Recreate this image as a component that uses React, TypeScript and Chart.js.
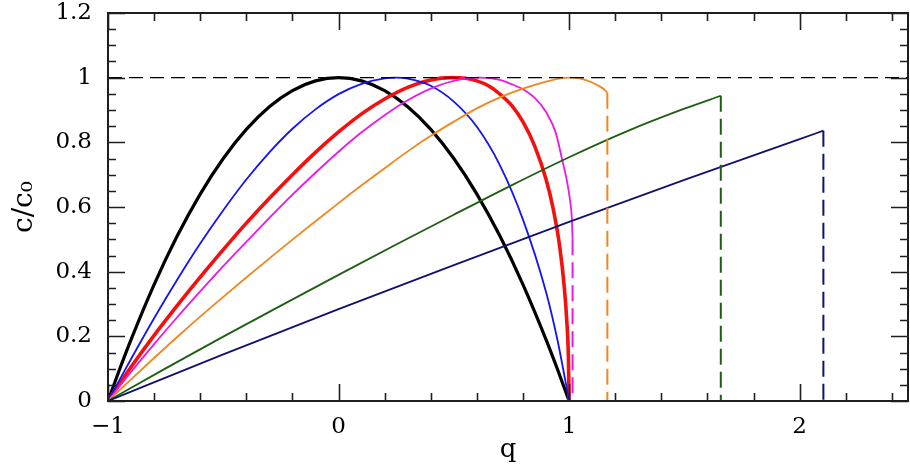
import React, { useEffect, useRef } from 'react';
import { Chart, registerables } from 'chart.js';

Chart.register(...registerables);

// Axis ranges and tick labels
const X_MIN = -1;
const X_MAX = 2.47;
const Y_MIN = 0;
const Y_MAX = 1.2;
const xTickLabels = [-1, 0, 1, 2];
const yTickStep = 0.2;
const xMinorStep = 0.2;
const yMinorStep = 0.05;

// Curves (q, c/c0)
const qBlack = [-1, -0.95, -0.9, -0.8, -0.7, -0.6, -0.5, -0.4, -0.3, -0.2, -0.1, 0, 0.1, 0.2, 0.3, 0.4, 0.5, 0.6, 0.7, 0.8, 0.9, 0.95, 1];
const cBlack = [0, 0.0975, 0.19, 0.36, 0.51, 0.64, 0.75, 0.84, 0.91, 0.96, 0.99, 1, 0.99, 0.96, 0.91, 0.84, 0.75, 0.64, 0.51, 0.36, 0.19, 0.0975, 0];

const qBlue = [-1, -0.9, -0.8, -0.7, -0.6, -0.5, -0.4, -0.3, -0.2, -0.1, 0, 0.1, 0.2, 0.25, 0.3, 0.4, 0.5, 0.6, 0.7, 0.8, 0.9, 0.95, 0.975, 0.99, 1];
const cBlue = [0, 0.13, 0.256, 0.375, 0.487, 0.59, 0.685, 0.769, 0.842, 0.902, 0.949, 0.981, 0.998, 1, 0.997, 0.975, 0.926, 0.848, 0.729, 0.561, 0.337, 0.187, 0.096, 0.039, 0];

const qRed = [-1, -0.9, -0.8, -0.7, -0.6, -0.5, -0.4, -0.3, -0.2, -0.1, 0, 0.1, 0.2, 0.3, 0.4, 0.49, 0.55, 0.6, 0.65, 0.7, 0.75, 0.8, 0.85, 0.9, 0.93, 0.96, 0.98, 0.99, 0.997, 1];
const cRed = [0, 0.105, 0.203, 0.295, 0.383, 0.468, 0.55, 0.627, 0.7, 0.769, 0.832, 0.888, 0.934, 0.97, 0.993, 1, 0.998, 0.99, 0.975, 0.949, 0.915, 0.863, 0.79, 0.686, 0.598, 0.474, 0.345, 0.247, 0.136, 0];

const qMagenta = [-1, -0.9, -0.8, -0.7, -0.6, -0.5, -0.4, -0.3, -0.2, -0.1, 0, 0.1, 0.2, 0.3, 0.4, 0.5, 0.61, 0.7, 0.75, 0.8, 0.85, 0.9, 0.942, 0.97, 0.99, 1.005, 1.012, 1.015];
const cMagenta = [0, 0.09, 0.176, 0.259, 0.339, 0.417, 0.492, 0.566, 0.638, 0.706, 0.771, 0.831, 0.884, 0.93, 0.966, 0.99, 1, 0.993, 0.98, 0.964, 0.938, 0.894, 0.83, 0.746, 0.683, 0.616, 0.564, 0.5];

const qOrange = [-1, -0.9, -0.8, -0.7, -0.6, -0.5, -0.4, -0.3, -0.2, -0.1, 0, 0.1, 0.2, 0.3, 0.4, 0.5, 0.6, 0.7, 0.8, 0.9, 1, 1.05, 1.1, 1.13, 1.15, 1.166];
const cOrange = [0, 0.067, 0.133, 0.198, 0.261, 0.322, 0.382, 0.441, 0.499, 0.556, 0.612, 0.667, 0.72, 0.772, 0.82, 0.864, 0.905, 0.939, 0.966, 0.988, 1, 0.997, 0.985, 0.974, 0.965, 0.953];

const qGreen = [-1, -0.75, -0.5, -0.25, 0, 0.25, 0.5, 0.75, 1, 1.25, 1.5, 1.658];
const cGreen = [0, 0.101, 0.199, 0.295, 0.39, 0.484, 0.576, 0.667, 0.754, 0.834, 0.904, 0.944];

const qNavy = [-1, -0.5, 0, 0.5, 1, 1.5, 2, 2.103];
const cNavy = [0, 0.144, 0.284, 0.42, 0.554, 0.684, 0.81, 0.836];

// Vertical dashed drops at the end of truncated curves
const dropQ = [1.015, 1.166, 1.658, 2.103];
const dropTop = [0.5, 0.953, 0.944, 0.836];

// Reference level
const refLevel = 1;

const COLORS = {
  black: '#000000',
  blue: '#1414f0',
  red: '#f51010',
  magenta: '#ea18ea',
  orange: '#f0871e',
  green: '#1d5e12',
  navy: '#12126e',
};
const dropColors = [COLORS.magenta, COLORS.orange, COLORS.green, COLORS.navy];

const FONT = "'DejaVu Serif', 'Liberation Serif', serif";

function pts(qs: number[], cs: number[]) {
  return qs.map((q, i) => ({ x: q, y: cs[i] }));
}

const frameTicks = {
  id: 'frameTicks',
  afterDatasetsDraw(chart: any) {
    const { ctx, chartArea, scales } = chart;
    const { left, right, top, bottom } = chartArea;
    const xs = scales.x;
    const ys = scales.y;
    ctx.save();
    ctx.strokeStyle = '#1e1e1e';
    ctx.lineWidth = 1.6;
    ctx.beginPath();
    const nx = Math.round((X_MAX - X_MIN) / xMinorStep);
    for (let k = 0; k <= nx; k++) {
      const v = X_MIN + k * xMinorStep;
      if (v > X_MAX + 1e-9) break;
      const px = Math.round(xs.getPixelForValue(v)) + 0.5;
      const len = k % 5 === 0 ? 17 : 8;
      ctx.moveTo(px, bottom);
      ctx.lineTo(px, bottom - len);
      ctx.moveTo(px, top);
      ctx.lineTo(px, top + len);
    }
    const ny = Math.round((Y_MAX - Y_MIN) / yMinorStep);
    for (let k = 0; k <= ny; k++) {
      const v = Y_MIN + k * yMinorStep;
      const py = Math.round(ys.getPixelForValue(v)) + 0.5;
      const len = k % 4 === 0 ? 17 : 8;
      ctx.moveTo(left, py);
      ctx.lineTo(left + len, py);
      ctx.moveTo(right, py);
      ctx.lineTo(right - len, py);
    }
    ctx.stroke();
    ctx.lineWidth = 2;
    ctx.strokeRect(left, top, right - left, bottom - top);
    ctx.restore();
  },
};

export default function App() {
  const ref = useRef<HTMLCanvasElement | null>(null);

  useEffect(() => {
    if (!ref.current) return;
    const curve = (data: any, color: string, width: number) => ({
      data,
      borderColor: color,
      borderWidth: width,
      showLine: true,
      pointRadius: 0,
      fill: false,
      cubicInterpolationMode: 'monotone',
    });
    const datasets: any[] = [
      {
        data: [{ x: X_MIN, y: refLevel }, { x: X_MAX, y: refLevel }],
        borderColor: '#000',
        borderWidth: 1.4,
        borderDash: [14, 7],
        showLine: true,
        pointRadius: 0,
      },
      ...dropQ.map((q, i) => ({
        data: [{ x: q, y: dropTop[i] }, { x: q, y: 0 }],
        borderColor: dropColors[i],
        borderWidth: 2,
        borderDash: [16, 7],
        showLine: true,
        pointRadius: 0,
      })),
      curve(pts(qNavy, cNavy), COLORS.navy, 1.8),
      curve(pts(qGreen, cGreen), COLORS.green, 1.8),
      curve(pts(qOrange, cOrange), COLORS.orange, 1.8),
      curve(pts(qMagenta, cMagenta), COLORS.magenta, 1.8),
      curve(pts(qBlue, cBlue), COLORS.blue, 1.8),
      curve(pts(qRed, cRed), COLORS.red, 3.6),
      curve(pts(qBlack, cBlack), COLORS.black, 3.2),
    ];

    const chart = new Chart(ref.current, {
      type: 'scatter',
      data: { datasets },
      plugins: [frameTicks],
      options: {
        animation: false,
        responsive: false,
        devicePixelRatio: 1,
        layout: { padding: { top: 13, right: 2, left: 0, bottom: 0 } },
        plugins: { legend: { display: false }, tooltip: { enabled: false } },
        scales: {
          x: {
            type: 'linear',
            min: X_MIN,
            max: X_MAX,
            grid: { display: false, drawTicks: false },
            border: { display: false },
            afterBuildTicks: (scale: any) => {
              scale.ticks = xTickLabels.map((v) => ({ value: v }));
            },
            afterFit: (scale: any) => {
              scale.height = 71;
              scale.paddingLeft = 0;
              scale.paddingRight = 0;
            },
            ticks: {
              padding: 12,
              color: '#000',
              font: { family: FONT, size: 23 },
              maxRotation: 0,
              autoSkip: false,
              callback: (v: any) => (Number(v) < 0 ? '\u2212' + Math.abs(Number(v)) : String(v)),
            },
            title: {
              display: true,
              text: 'q',
              color: '#000',
              font: { family: FONT, size: 26 },
              padding: { top: 0, bottom: 6 },
            },
          },
          y: {
            type: 'linear',
            min: Y_MIN,
            max: Y_MAX,
            grid: { display: false, drawTicks: false },
            border: { display: false },
            afterFit: (scale: any) => {
              scale.width = 108;
              scale.paddingTop = 0;
              scale.paddingBottom = 0;
            },
            ticks: {
              stepSize: yTickStep,
              padding: 16,
              color: '#000',
              font: { family: FONT, size: 23 },
              callback: (v: any) => String(Math.round(Number(v) * 100) / 100),
            },
            title: {
              display: true,
              text: 'c/c\u2080',
              color: '#000',
              font: { family: FONT, size: 28 },
              padding: { top: 8, bottom: 0 },
            },
          },
        },
      },
    } as any);
    return () => chart.destroy();
  }, []);

  return (
    <div style={{ position: 'fixed', left: 0, top: 0, width: 910, height: 472, background: '#fff' }}>
      <canvas ref={ref} width={910} height={472} style={{ width: 910, height: 472 }} />
    </div>
  );
}
